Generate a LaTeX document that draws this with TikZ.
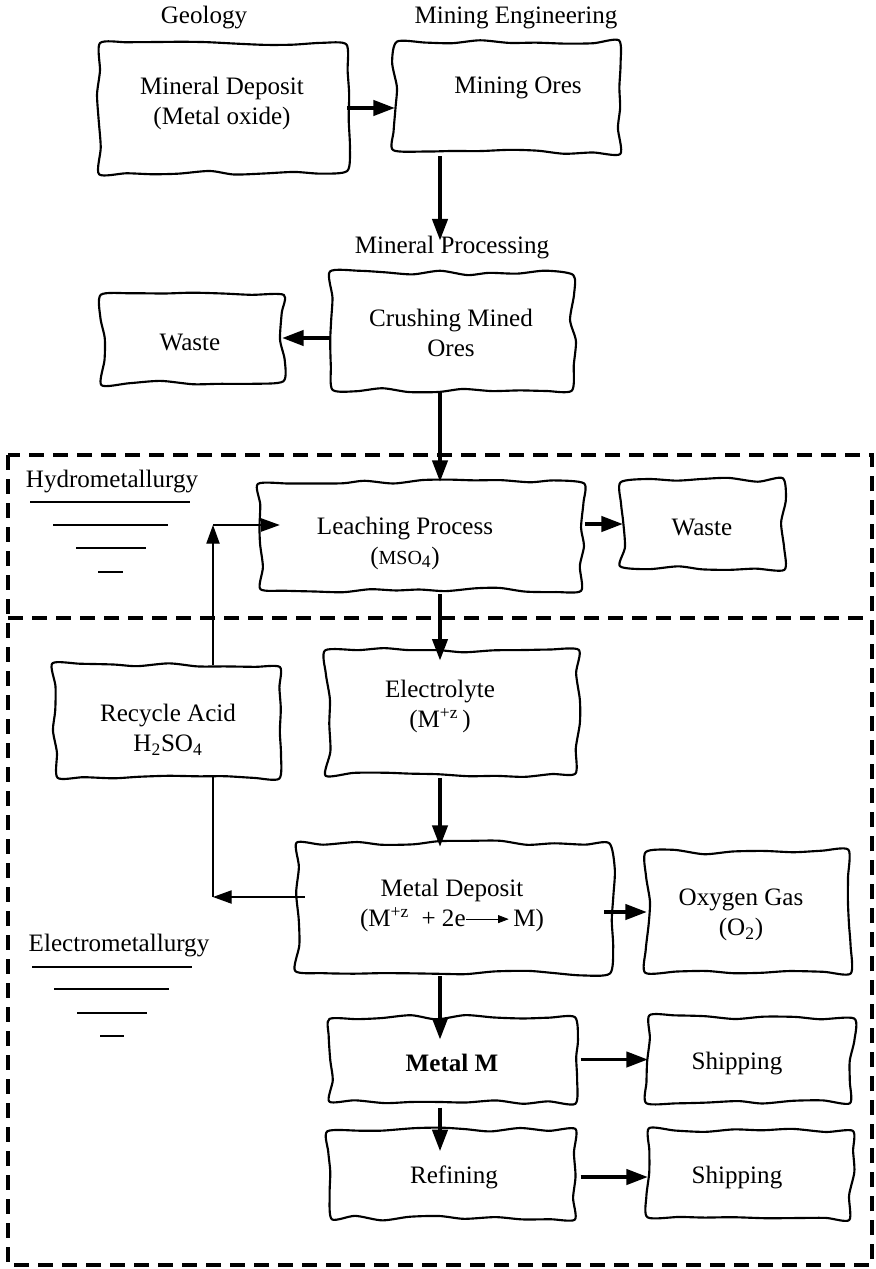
\documentclass[tikz,border=0pt]{standalone}
\usepackage{fontspec}
\setmainfont{Liberation Serif}
\usetikzlibrary{arrows.meta,fit,calc}
\newcommand\wobpt[2]{%
  \pgfmathsetmacro\wx{#1+rand*3}%
  \pgfmathsetmacro\wy{#2+rand*2.4}%
  \xdef\wobpts{\wobpts (\wx,\wy)}}
\newcommand\wavybox[5]{%
  \node[fit={(#2,#3) (#4,#5)}, inner sep=0pt] (#1) {};
  \gdef\wobpts{}%
  \pgfmathtruncatemacro\nh{max(3,round((#4-#2)/28))}%
  \pgfmathtruncatemacro\nv{max(3,round((#5-#3)/24))}%
  \pgfmathtruncatemacro\nhm{\nh-1}%
  \pgfmathtruncatemacro\nvm{\nv-1}%
  \foreach \i in {0,...,\nhm}{\wobpt{#2+(#4-#2)*\i/\nh}{#3}}%
  \foreach \i in {0,...,\nvm}{\wobpt{#4}{#3+(#5-#3)*\i/\nv}}%
  \foreach \i in {0,...,\nhm}{\wobpt{#4-(#4-#2)*\i/\nh}{#5}}%
  \foreach \i in {0,...,\nvm}{\wobpt{#2}{#5-(#5-#3)*\i/\nv}}%
  \edef\wobdraw{\noexpand\draw[wbox] plot[smooth cycle, tension=0.45] coordinates {\wobpts};}%
  \wobdraw}
\begin{document}
\begin{tikzpicture}[x=0.75pt,y=-0.75pt,
  wbox/.style={line width=1.6pt, line join=round},
  txt/.style={align=center, inner sep=0pt, font=\fontsize{18.8}{22.5}\selectfont},
  arr/.style={line width=2.4pt, -{Triangle[length=16pt,width=11.5pt]}},
  thinarr/.style={line width=0.8pt, -{Triangle[length=14pt,width=10pt]}},
  thinline/.style={line width=0.8pt},
  dashbox/.style={line width=3pt, dash pattern=on 11pt off 7pt},
  uline/.style={line width=1pt}]
\useasboundingbox (0,0) rectangle (875,1269);
\pgfmathsetseed{11}

% dashed frames
\draw[dashbox] (8,455) rectangle (872,1265);
\draw[dashbox] (8,618) -- (872,618);

% boxes
\wavybox{b1}{98}{43}{347}{173}
\wavybox{b2}{395}{42}{620}{152}
\wavybox{b3}{330}{273}{573}{390}
\wavybox{b4}{102}{293}{282}{383}
\wavybox{b5}{260}{482}{582}{590}
\wavybox{b6}{623}{480}{783}{568}
\wavybox{b7}{55}{665}{282}{777}
\wavybox{b8}{328}{650}{577}{775}
\wavybox{b9}{297}{843}{612}{973}
\wavybox{b10}{647}{852}{850}{972}
\wavybox{b11}{330}{1017}{575}{1102}
\wavybox{b12}{648}{1017}{852}{1102}
\wavybox{b13}{330}{1130}{575}{1218}
\wavybox{b14}{648}{1130}{852}{1218}

% texts
\node[txt] (geo) at (204,18) {Geology};
\node[txt] (me) at (516,18) {Mining Engineering};
\node[txt] (mp) at (452,248) {Mineral Processing};
\node[txt] (hydro) at (112,482) {Hydrometallurgy};
\node[txt] (electro) at (119,945) {Electrometallurgy};

\node[txt] (t1) at (222,103) {Mineral Deposit\\(Metal oxide)};
\node[txt] (t2) at (518,88) {Mining Ores};
\node[txt] (t3) at (451,333) {Crushing Mined\\Ores};
\node[txt] (t4) at (190,342) {Waste};
\node[txt] (t5) at (405,543) {Leaching Process\\({\fontsize{15}{18}\selectfont MSO}\textsubscript{4})};
\node[txt] (t6) at (702,527) {Waste};
\node[txt] (t7) at (168,730) {Recycle Acid\\H\textsubscript{2}SO\textsubscript{4}};
\node[txt] (t8) at (440,706) {Electrolyte\\(M\textsuperscript{+z}\,)};
\node[txt] (t9) at (452,905) {Metal Deposit\\(M\textsuperscript{+z}\ \ + 2e\tikz[baseline=-0.6ex]\draw[line width=0.6pt,-{Triangle[length=8pt,width=6pt]}] (0pt,0pt) -- (32pt,0pt);\,M)};
\node[txt] (t10) at (741,915) {Oxygen Gas\\(O\textsubscript{2})};
\node[txt] (t11) at (452,1063) {\textbf{Metal M}};
\node[txt] (t12) at (737,1063) {Shipping};
\node[txt] (t13) at (454,1177) {Refining};
\node[txt] (t14) at (737,1177) {Shipping};

% underline strokes
\draw[uline] (30,502) -- (190,502);
\draw[uline] (53,525) -- (168,525);
\draw[uline] (76,548) -- (146,548);
\draw[uline] (98,572) -- (123,572);
\draw[uline] (32,967) -- (192,967);
\draw[uline] (54,989) -- (169,989);
\draw[uline] (77,1013) -- (147,1013);
\draw[uline] (100,1036) -- (124,1036);

% main column
\coordinate (col) at (440,0);
\draw[arr] (b1.east) -- (b1.east -| b2.west);
\draw[arr, shorten <=3pt] (b2.south -| col) -- ([yshift=-3pt]mp.north -| col);
\draw[arr, shorten <=2pt] (b3.south -| col) -- (b5.north -| col);
\draw[arr] (b3.west |- b4.east) -- (b4.east);
\draw[arr, shorten <=2pt] (b5.east |- b6.west) -- (b6.west);
\draw[arr, shorten <=3pt, shorten >=-8pt] (b5.south -| col) -- (b8.north -| col);
\draw[arr, shorten <=2pt, shorten >=-3pt] (b8.south -| col) -- (b9.north -| col);
\draw[arr, shorten <=-6pt] (b9.east |- b10.west) -- (b10.west);
\draw[arr, shorten <=2pt, shorten >=-17pt] (b9.south -| col) -- (b11.north -| col);
\draw[arr, shorten <=4pt] (b11.east) -- (b11.east -| b12.west);
\draw[arr, shorten <=4pt, shorten >=-16pt] (b11.south -| col) -- (b13.north -| col);
\draw[arr, shorten <=4pt] (b13.east |- t13) -- (t13 -| b14.west);

% recycle loop
\coordinate (c1) at (213,897);
\coordinate (c2) at (213,525);
\draw[thinarr, shorten <=-6pt] (c1 -| b9.west) -- (c1);
\draw[thinline] (c1) -- (c1 |- b7.south);
\draw[thinarr] (c1 |- b7.north) -- (c2);
\draw[thinarr, shorten >=-15pt] (c2) -- (c2 -| b5.west);
\end{tikzpicture}
\end{document}
